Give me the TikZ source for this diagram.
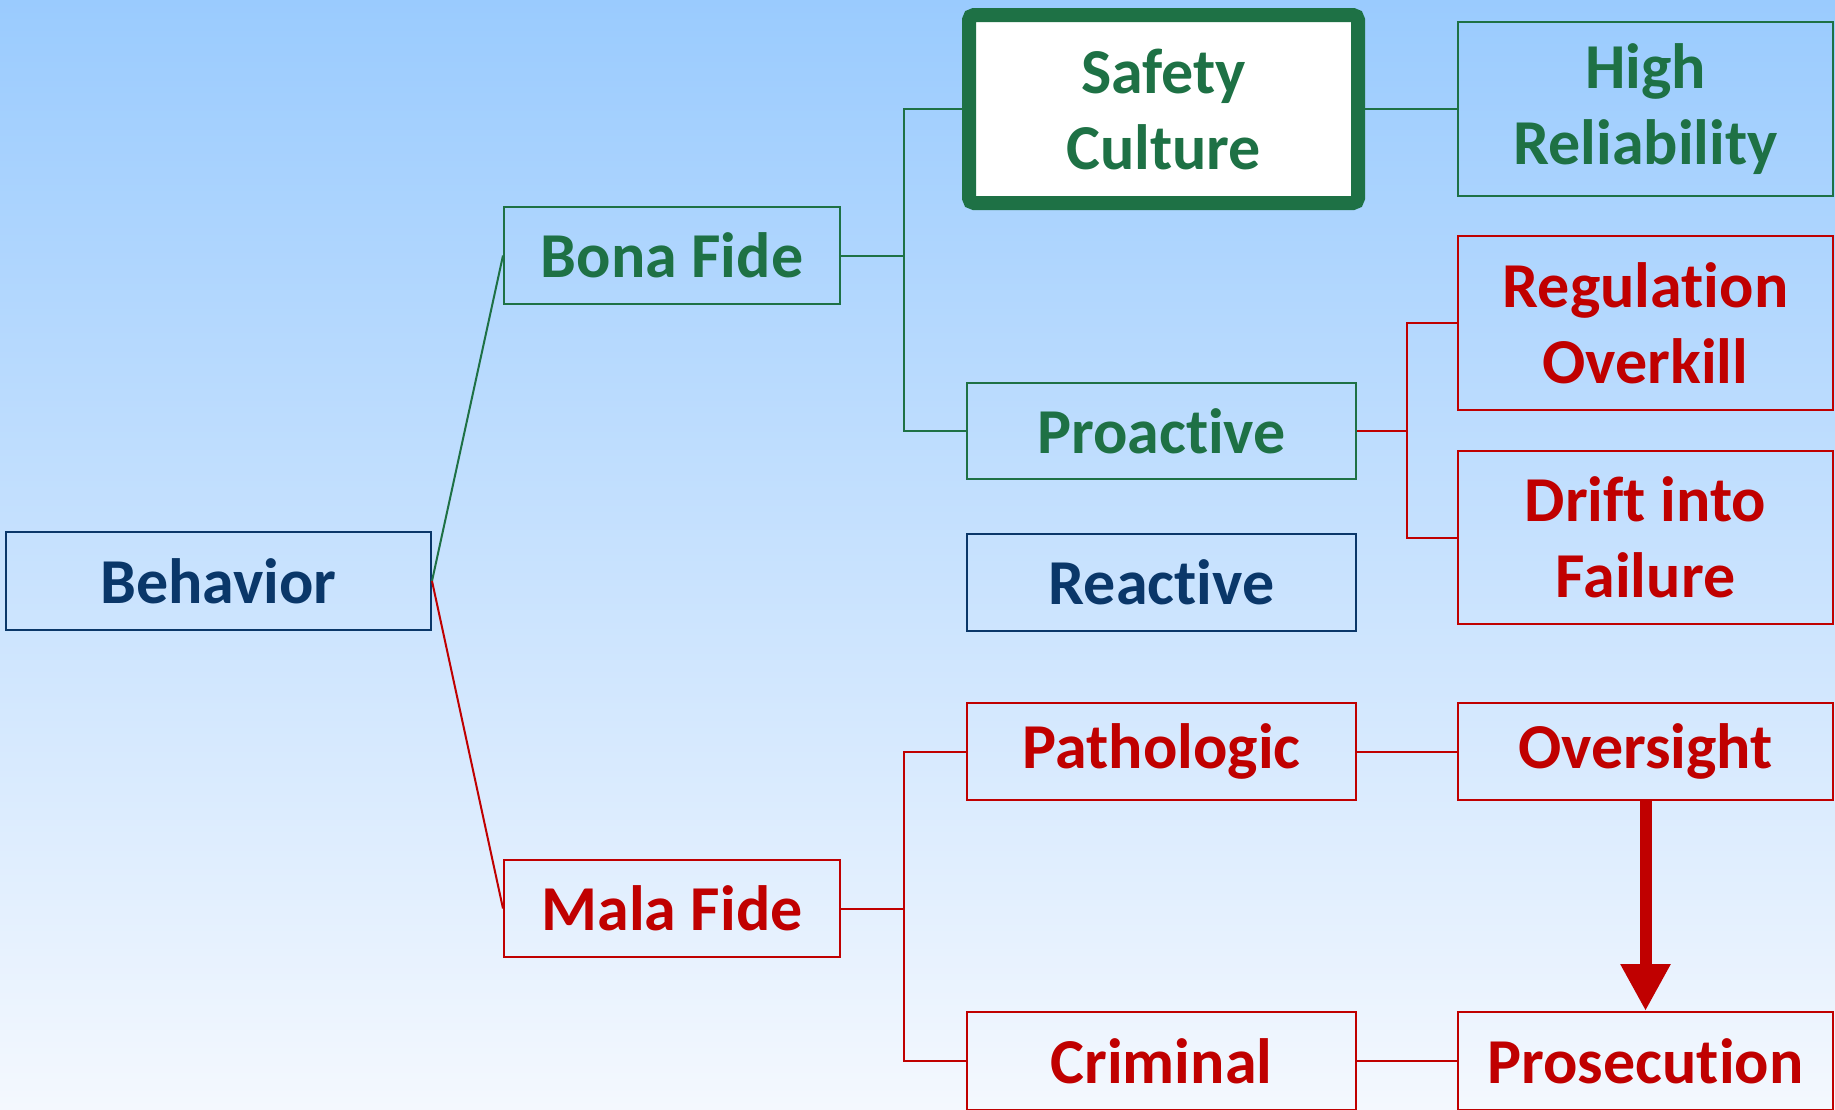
\documentclass[tikz,border=0pt]{standalone}
\usepackage{fontspec}
\setmainfont{Carlito}[Ligatures={NoCommon}]
\usetikzlibrary{arrows.meta,calc}
\definecolor{cgreen}{RGB}{30,113,69}
\definecolor{cred}{RGB}{192,0,0}
\definecolor{cnavy}{RGB}{10,55,105}
\definecolor{bgtop}{RGB}{154,203,254}
\definecolor{bgbot}{RGB}{244,248,254}
\tikzset{
  box/.style={draw, line width=2pt, inner sep=0pt, align=center,
    font=\fontsize{64}{76}\selectfont\bfseries},
  gbox/.style={box, draw=cgreen, text=cgreen},
  rbox/.style={box, draw=cred, text=cred},
  nbox/.style={box, draw=cnavy, text=cnavy},
  gline/.style={draw=cgreen, line width=2pt},
  rline/.style={draw=cred, line width=2pt},
}
\begin{document}
\begin{tikzpicture}[x=1pt,y=-1pt]
\useasboundingbox (0,0) rectangle (1835,1109);
\shade[top color=bgtop, bottom color=bgbot] (0,0) rectangle (1835,1109);

\node[nbox, minimum width=425pt, minimum height=98pt] (behavior) at (218.5,581) {Behavior};
\node[gbox, minimum width=336pt, minimum height=97pt] (bona) at (672,255.5) {Bona Fide};
\node[rbox, minimum width=336pt, minimum height=97pt] (mala) at (672,908.5) {Mala Fide};
\node[gbox, line width=14pt, fill=white, rounded corners=5pt, minimum width=389pt, minimum height=188pt] (safety) at (1163.5,109) {Safety\\Culture};
\node[gbox, minimum width=375pt, minimum height=174pt] (high) at (1645.5,109) {High\\Reliability};
\node[rbox, minimum width=375pt, minimum height=174pt] (reg) at (1645.5,323) {Regulation\\Overkill};
\node[rbox, minimum width=375pt, minimum height=173pt] (drift) at (1645.5,537.5) {Drift into\\Failure};
\node[gbox, minimum width=389pt, minimum height=96pt] (proactive) at (1161.5,431) {Proactive};
\node[nbox, minimum width=389pt, minimum height=97pt] (reactive) at (1161.5,582.5) {Reactive};
\node[rbox, minimum width=389pt, minimum height=97pt] (patho) at (1161.5,751.5) {Pathologic};
\node[rbox, minimum width=375pt, minimum height=97pt] (oversight) at (1645.5,751.5) {Oversight};
\node[rbox, minimum width=389pt, minimum height=98pt] (criminal) at (1161.5,1061) {Criminal};
\node[rbox, minimum width=375pt, minimum height=98pt] (prosecution) at (1645.5,1061) {Prosecution};

\draw[gline] (behavior.east) -- (bona.west);
\draw[rline] (behavior.east) -- (mala.west);

\draw[gline] (bona.east) -- ++(63,0) |- (safety.west);
\draw[gline] (bona.east) -- ++(63,0) |- (proactive.west);
\draw[gline] (safety.east) -- (high.west);

\draw[rline] (proactive.east) -- ++(50,0) |- (reg.west);
\draw[rline] (proactive.east) -- ++(50,0) |- (drift.west);

\draw[rline] (mala.east) -- ++(63,0) |- (patho.west);
\draw[rline] (mala.east) -- ++(63,0) |- (criminal.west);
\draw[rline] (patho.east) -- (oversight.west);
\draw[rline] (criminal.east) -- (prosecution.west);

\draw[cred, line width=12pt, -{Triangle[length=47pt,width=47pt]}] (oversight.south) -- (prosecution.north);
\end{tikzpicture}
\end{document}
